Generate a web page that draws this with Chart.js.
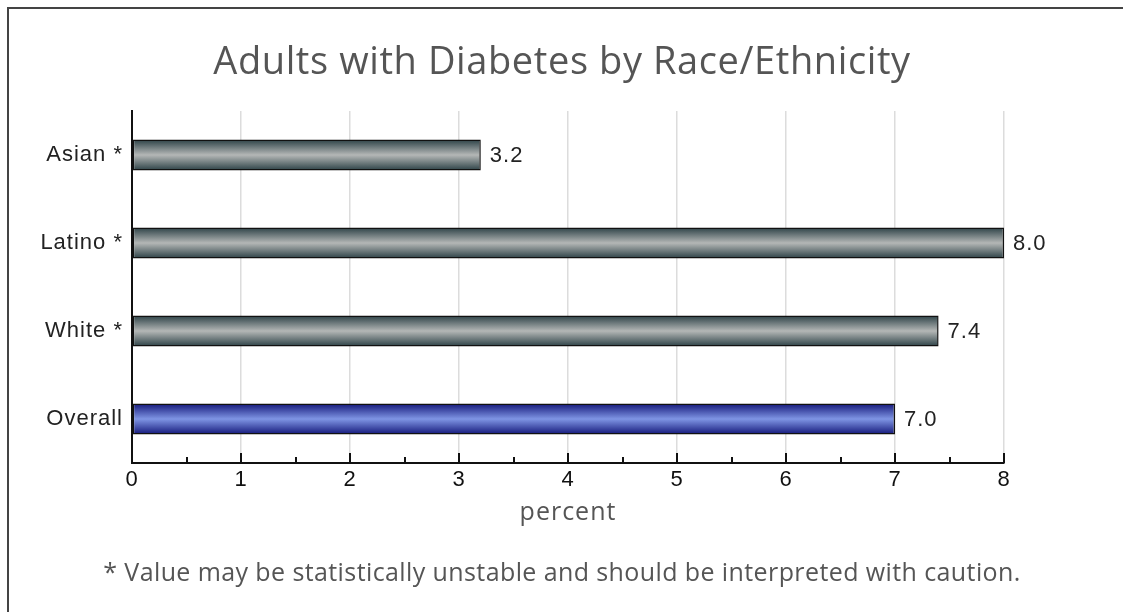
<!DOCTYPE html>
<html>
<head>
<meta charset="utf-8">
<script src="https://cdn.jsdelivr.net/npm/chart.js@4"></script>
<style>
  html, body { margin: 0; padding: 0; background: #fff; }
  #wrap { width: 1123px; height: 612px; position: relative; }
</style>
</head>
<body>
<div id="wrap"><canvas id="myChart"></canvas></div>
<script>
// diabetes prevalence, percent of adults
const groups = ['Asian *', 'Latino *', 'White *', 'Overall'];
const rates = [3.2, 8.0, 7.4, 7.0];
const xTicks = [0, 1, 2, 3, 4, 5, 6, 7, 8];

const titleText = 'Adults with Diabetes by Race/Ethnicity';
const noteText = '* Value may be statistically unstable and should be interpreted with caution.';

function barFill(context) {
    const chart = context.chart;
    const yScale = chart.scales.y;
    const fallback = context.dataIndex === 3 ? '#3b4bb8' : '#6f7b7d';
    if (!yScale || yScale.height === undefined) return fallback;
    const cy = yScale.getPixelForValue(context.dataIndex);
    const half = yScale.height / groups.length * 0.35 / 2;
    const g = chart.ctx.createLinearGradient(0, cy - half, 0, cy + half);
    if (context.dataIndex === 3) {
        g.addColorStop(0, '#14187a');
        g.addColorStop(0.5, '#7f95e4');
        g.addColorStop(1, '#14187a');
    } else {
        g.addColorStop(0, '#2c4146');
        g.addColorStop(0.5, '#b4b7b6');
        g.addColorStop(1, '#2c4146');
    }
    return g;
}

const decorations = {
    id: 'decorations',
    beforeDraw(chart) {
        const ctx = chart.ctx;
        ctx.save();
        ctx.fillStyle = '#fff';
        ctx.fillRect(0, 0, chart.width, chart.height);
        ctx.strokeStyle = '#444';
        ctx.lineWidth = 2;
        ctx.strokeRect(8, 8, chart.width + 40, chart.height + 40);
        ctx.fillStyle = '#555';
        ctx.textAlign = 'center';
        ctx.textBaseline = 'middle';
        ctx.letterSpacing = '0.6px';
        ctx.font = '38px "Open Sans"';
        ctx.fillText(titleText, 562, 63);
        ctx.letterSpacing = '0.4px';
        ctx.font = '25px "Open Sans"';
        ctx.fillText(noteText, 562, 574);
        ctx.restore();
        // slightly wider spacing for the axis labels
        ctx.letterSpacing = '1px';
    },
    afterDatasetsDraw(chart) {
        const ctx = chart.ctx;
        const meta = chart.getDatasetMeta(0);
        ctx.save();
        ctx.fillStyle = '#222';
        ctx.font = '22px "Liberation Sans"';
        ctx.textAlign = 'left';
        ctx.textBaseline = 'middle';
        meta.data.forEach((bar, i) => {
            ctx.fillText(rates[i].toFixed(1), bar.x + 9, bar.y + 1);
        });
        // inward tick marks on the value axis
        const x = chart.scales.x;
        const base = chart.chartArea.bottom;
        ctx.strokeStyle = '#111';
        ctx.lineWidth = 2;
        ctx.beginPath();
        for (let v = 0; v <= 8; v += 0.5) {
            const px = Math.round(x.getPixelForValue(v));
            const len = Number.isInteger(v) ? 10 : 6;
            ctx.moveTo(px, base);
            ctx.lineTo(px, base - len);
        }
        ctx.stroke();
        ctx.restore();
    }
};

new Chart(document.getElementById('myChart'), {
    type: 'bar',
    data: {
        labels: groups,
        datasets: [{
            data: rates,
            backgroundColor: barFill,
            borderColor: '#111',
            borderWidth: 1.5,
            borderSkipped: false,
            barPercentage: 0.35,
            categoryPercentage: 1
        }]
    },
    options: {
        indexAxis: 'y',
        responsive: true,
        maintainAspectRatio: false,
        animation: false,
        layout: { padding: { left: 0, top: 111, right: 119, bottom: 84 } },
        plugins: {
            legend: { display: false },
            tooltip: { enabled: false }
        },
        scales: {
            x: {
                min: 0,
                max: 8,
                afterBuildTicks: (scale) => { scale.ticks = xTicks.map(v => ({ value: v })); },
                afterFit: (scale) => { scale.height = 65; },
                border: { display: true, color: '#111', width: 2 },
                grid: {
                    color: (c) => c.tick && c.tick.value === 0 ? 'rgba(0,0,0,0)' : '#dcdcdc',
                    lineWidth: 1.5,
                    drawTicks: false
                },
                ticks: {
                    padding: 4,
                    color: '#111',
                    font: { family: 'Liberation Sans', size: 22 }
                },
                title: {
                    display: true,
                    text: 'percent',
                    color: '#555',
                    font: { family: 'Open Sans', size: 25 },
                    padding: { top: 0, bottom: 0 }
                }
            },
            y: {
                afterFit: (scale) => { scale.width = 132; },
                border: { display: true, color: '#111', width: 2 },
                grid: { display: false, drawTicks: false },
                ticks: {
                    padding: 9,
                    color: '#222',
                    font: { family: 'Liberation Sans', size: 22 }
                }
            }
        }
    },
    plugins: [decorations]
});
</script>
</body>
</html>
